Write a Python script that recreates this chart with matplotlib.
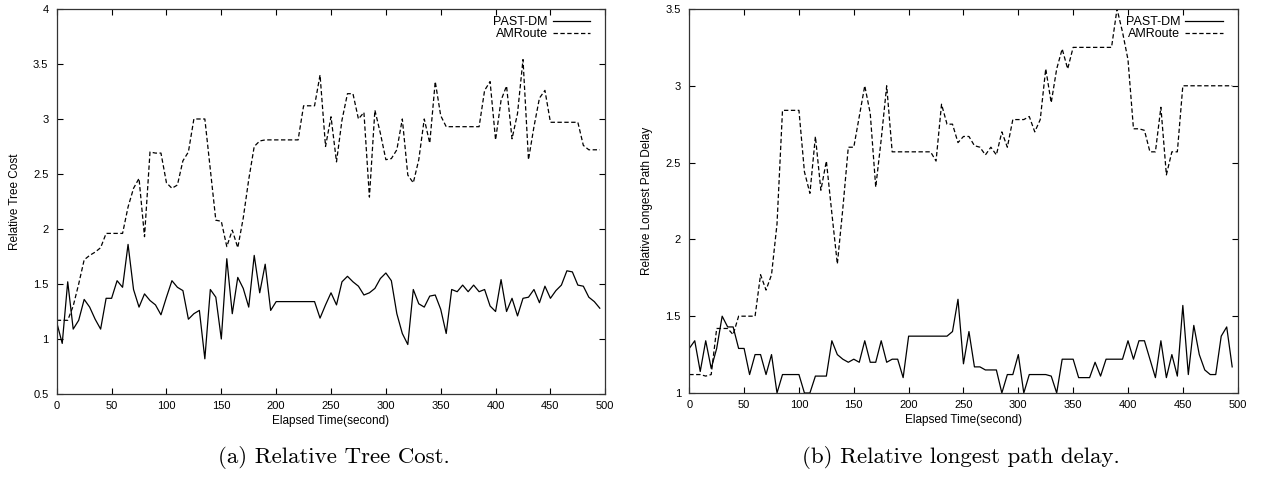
import numpy as np
import matplotlib
matplotlib.use("Agg")
import matplotlib.pyplot as plt

# Elapsed time, one sample every 5 s
time_s = np.arange(0, 500, 5)

# (a) Relative tree cost
tree_past_dm = [
    1.15, 0.96, 1.52, 1.09, 1.17, 1.36, 1.29, 1.18, 1.09, 1.37,
    1.37, 1.53, 1.47, 1.86, 1.45, 1.29, 1.41, 1.35, 1.31, 1.22,
    1.38, 1.53, 1.47, 1.44, 1.18, 1.23, 1.26, 0.82, 1.45, 1.38,
    1.00, 1.73, 1.23, 1.56, 1.46, 1.29, 1.76, 1.42, 1.68, 1.26,
    1.34, 1.34, 1.34, 1.34, 1.34, 1.34, 1.34, 1.34, 1.19, 1.31,
    1.42, 1.31, 1.52, 1.57, 1.52, 1.48, 1.40, 1.42, 1.46, 1.55,
    1.60, 1.53, 1.23, 1.05, 0.95, 1.45, 1.32, 1.29, 1.39, 1.40,
    1.27, 1.05, 1.45, 1.43, 1.49, 1.43, 1.49, 1.43, 1.45, 1.30,
    1.25, 1.54, 1.25, 1.37, 1.21, 1.37, 1.38, 1.45, 1.33, 1.48,
    1.37, 1.44, 1.49, 1.62, 1.61, 1.49, 1.48, 1.38, 1.34, 1.28,
]
tree_amroute = [
    1.17, 1.17, 1.17, 1.30, 1.50, 1.72, 1.76, 1.79, 1.83, 1.96,
    1.96, 1.96, 1.96, 2.20, 2.37, 2.46, 1.93, 2.70, 2.69, 2.69,
    2.42, 2.37, 2.40, 2.62, 2.70, 3.00, 3.00, 3.00, 2.54, 2.08,
    2.07, 1.84, 1.99, 1.83, 2.10, 2.45, 2.75, 2.80, 2.81, 2.81,
    2.81, 2.81, 2.81, 2.81, 2.81, 3.12, 3.12, 3.12, 3.40, 2.75,
    3.02, 2.61, 2.99, 3.23, 3.23, 3.00, 3.06, 2.29, 3.08, 2.87,
    2.63, 2.64, 2.72, 3.00, 2.49, 2.42, 2.63, 3.00, 2.78, 3.34,
    3.03, 2.93, 2.93, 2.93, 2.93, 2.93, 2.93, 2.93, 3.26, 3.34,
    2.81, 3.17, 3.30, 2.82, 3.05, 3.54, 2.63, 2.93, 3.19, 3.26,
    2.97, 2.97, 2.97, 2.97, 2.97, 2.97, 2.76, 2.72, 2.72, 2.72,
]

# (b) Relative longest path delay
delay_past_dm = [
    1.29, 1.34, 1.14, 1.34, 1.16, 1.29, 1.50, 1.43, 1.43, 1.29,
    1.29, 1.12, 1.25, 1.25, 1.12, 1.25, 1.00, 1.12, 1.12, 1.12,
    1.12, 1.00, 1.00, 1.11, 1.11, 1.11, 1.34, 1.25, 1.22, 1.20,
    1.22, 1.20, 1.34, 1.20, 1.20, 1.34, 1.20, 1.22, 1.22, 1.10,
    1.37, 1.37, 1.37, 1.37, 1.37, 1.37, 1.37, 1.37, 1.40, 1.61,
    1.19, 1.40, 1.17, 1.17, 1.15, 1.15, 1.15, 1.00, 1.12, 1.12,
    1.25, 1.00, 1.12, 1.12, 1.12, 1.12, 1.11, 1.00, 1.22, 1.22,
    1.22, 1.10, 1.10, 1.10, 1.20, 1.11, 1.22, 1.22, 1.22, 1.22,
    1.34, 1.22, 1.34, 1.34, 1.22, 1.10, 1.34, 1.10, 1.25, 1.11,
    1.57, 1.12, 1.44, 1.25, 1.15, 1.12, 1.12, 1.37, 1.43, 1.17,
]
delay_amroute = [
    1.12, 1.12, 1.12, 1.11, 1.12, 1.42, 1.42, 1.42, 1.38, 1.50,
    1.50, 1.50, 1.50, 1.77, 1.67, 1.77, 2.10, 2.84, 2.84, 2.84,
    2.84, 2.44, 2.30, 2.67, 2.32, 2.51, 2.17, 1.84, 2.20, 2.60,
    2.60, 2.80, 3.00, 2.82, 2.34, 2.65, 3.00, 2.57, 2.57, 2.57,
    2.57, 2.57, 2.57, 2.57, 2.57, 2.51, 2.88, 2.75, 2.75, 2.63,
    2.67, 2.67, 2.61, 2.60, 2.55, 2.60, 2.55, 2.70, 2.60, 2.78,
    2.78, 2.78, 2.80, 2.70, 2.78, 3.11, 2.89, 3.11, 3.24, 3.11,
    3.25, 3.25, 3.25, 3.25, 3.25, 3.25, 3.25, 3.25, 3.50, 3.35,
    3.17, 2.72, 2.72, 2.71, 2.57, 2.57, 2.86, 2.42, 2.57, 2.57,
    3.00, 3.00, 3.00, 3.00, 3.00, 3.00, 3.00, 3.00, 3.00, 3.00,
]

x_ticks = np.arange(0, 501, 50)
tree_yticks = np.arange(0.5, 4.01, 0.5)
delay_yticks = np.arange(1.0, 3.51, 0.5)

plt.rcParams["font.family"] = ["Liberation Sans", "DejaVu Sans"]

fig = plt.figure(figsize=(12.61, 4.88), dpi=100)
ax_a = fig.add_axes([0.045, 0.1926, 0.435, 0.789])
ax_b = fig.add_axes([0.5466, 0.1947, 0.4349, 0.7869])

dash = (0, (3.5, 2))


def style_axes(ax, yticks, ylim, ylabel):
    ax.set_xlim(0, 500)
    ax.set_ylim(*ylim)
    ax.set_xticks(x_ticks)
    ax.set_yticks(yticks)
    ax.set_yticklabels([f"{v:g}" for v in yticks])
    ax.tick_params(direction="in", length=4, width=0.8, top=True, right=True,
                   labelsize=8)
    ax.tick_params(axis="y", pad=6)
    ax.tick_params(axis="x", pad=5)
    for s in ax.spines.values():
        s.set_linewidth(0.9)
        s.set_color("#333333")
    ax.set_xlabel("Elapsed Time(second)", fontsize=8.5, labelpad=3)
    ax.set_ylabel(ylabel, fontsize=8.5, labelpad=9)
    # gnuplot-style key: text first, sample line after it
    ax.legend(loc="upper right", bbox_to_anchor=(0.973, 0.982), frameon=False,
              markerfirst=False, fontsize=9, handlelength=3.0,
              handletextpad=0.4, labelspacing=0.0, borderpad=0.0,
              borderaxespad=0.0)


for ax, past, amr in [(ax_a, tree_past_dm, tree_amroute),
                      (ax_b, delay_past_dm, delay_amroute)]:
    ax.plot(time_s, past, color="black", lw=0.9, label="PAST-DM")
    ax.plot(time_s, amr, color="black", lw=0.9, linestyle=dash, label="AMRoute")

style_axes(ax_a, tree_yticks, (0.5, 4.0), "Relative Tree Cost")
style_axes(ax_b, delay_yticks, (1.0, 3.5), "Relative Longest Path Delay")

fig.text(0.265, 0.063, "(a) Relative Tree Cost.", fontfamily="cmr10",
         fontsize=16.5, ha="center", va="center")
fig.text(0.762, 0.063, "(b) Relative longest path delay.", fontfamily="cmr10",
         fontsize=16.5, ha="center", va="center")

fig.savefig("out.png", dpi=100)
